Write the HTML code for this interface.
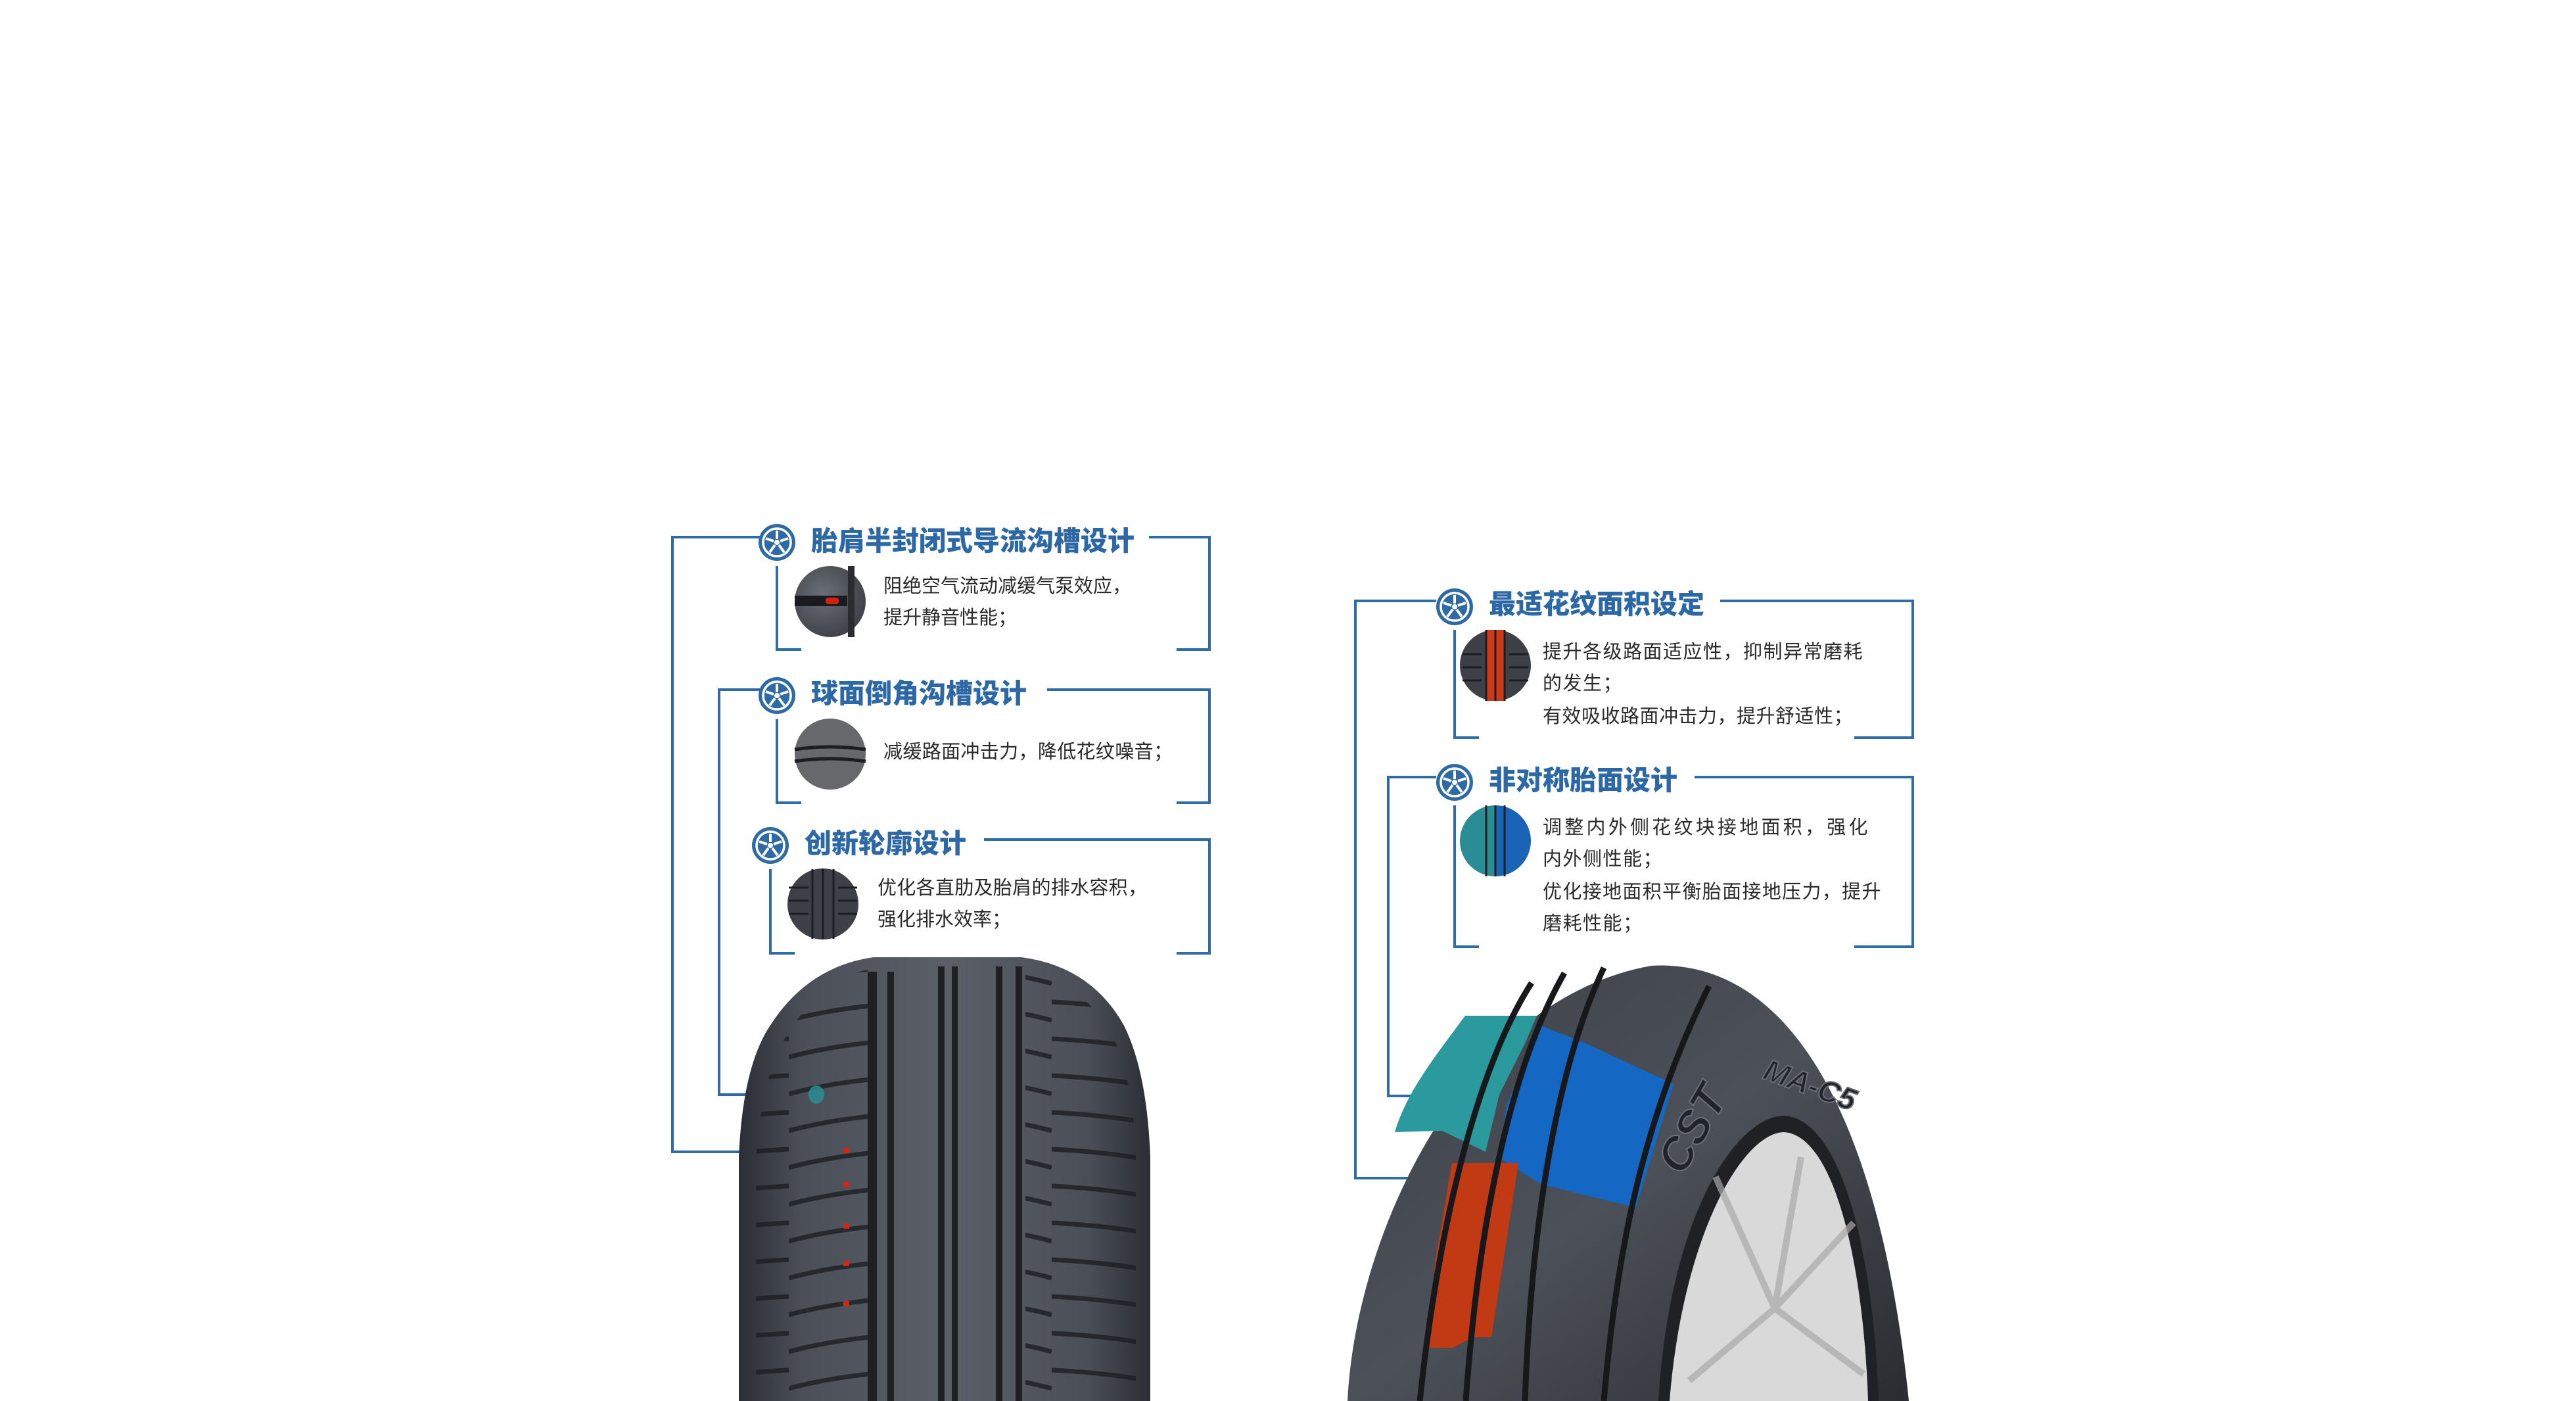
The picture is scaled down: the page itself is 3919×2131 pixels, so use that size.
<!DOCTYPE html>
<html><head><meta charset="utf-8"><style>
html,body{margin:0;padding:0;background:#fff;}
svg{display:block;}
.t{font-family:"Liberation Sans","Noto Sans CJK SC",sans-serif;font-weight:900;font-size:41px;fill:#2c68a6;}
.b{font-family:"Liberation Sans","Noto Sans CJK SC",sans-serif;font-size:29px;fill:#2a2a2a;}
.r{letter-spacing:1.5px;}
</style></head><body>
<svg width="3919" height="2131" viewBox="0 0 3919 2131" xmlns="http://www.w3.org/2000/svg">
<defs>
<linearGradient id="tg" x1="0" x2="1" y1="0" y2="0">
<stop offset="0" stop-color="#2b2e34"/><stop offset="0.15" stop-color="#4a4e57"/><stop offset="0.5" stop-color="#5b5f68"/><stop offset="0.85" stop-color="#4a4e57"/><stop offset="1" stop-color="#2b2e34"/></linearGradient>
<linearGradient id="rg" x1="0" x2="1" y1="0" y2="1">
<stop offset="0" stop-color="#3c4047"/><stop offset="0.5" stop-color="#4c5058"/><stop offset="1" stop-color="#2a2c31"/></linearGradient>
<radialGradient id="ci" cx="0.4" cy="0.4" r="0.7"><stop offset="0" stop-color="#6a6e76"/><stop offset="1" stop-color="#3a3d43"/></radialGradient>
<g id="icon">
<circle r="28" fill="#2e6aa6"/>
<circle r="21" fill="none" stroke="#fff" stroke-width="3.5"/>
<circle r="4" fill="#fff"/>
<g stroke="#fff" stroke-width="4">
<line x1="0" y1="-5" x2="0" y2="-18"/><line x1="5" y1="-2" x2="17" y2="-6"/><line x1="3" y1="4" x2="11" y2="15"/><line x1="-3" y1="4" x2="-11" y2="15"/><line x1="-5" y1="-2" x2="-17" y2="-6"/></g>
</g>
<pattern id="sipeL" width="200" height="56" patternUnits="userSpaceOnUse"><path d="M0,40 Q80,18 200,12" stroke="#1c1e22" stroke-width="7" fill="none"/></pattern>
<pattern id="sipeR" width="200" height="56" patternUnits="userSpaceOnUse"><path d="M0,12 Q120,18 200,40" stroke="#1c1e22" stroke-width="7" fill="none"/></pattern>
</defs>

<!-- connector lines -->
<g fill="none" stroke="#2f6ba6" stroke-width="4">
<path d="M1156,817 H1023 V1752 H1283"/>
<path d="M1748,817 H1840 V988 H1790"/>
<path d="M1182,861 V988 H1219"/>
<path d="M1156,1049 H1094 V1665 H1242"/>
<path d="M1593,1049 H1840 V1221 H1790"/>
<path d="M1182,1094 V1221 H1219"/>
<path d="M1497,1277 H1840 V1450 H1790"/>
<path d="M1172,1322 V1450 H1209"/>
<path d="M2185,914 H2062 V1792 H2258"/>
<path d="M2617,914 H2910 V1122 H2821"/>
<path d="M2213,958 V1122 H2250"/>
<path d="M2185,1182 H2112 V1667 H2258"/>
<path d="M2578,1182 H2910 V1440 H2821"/>
<path d="M2213,1225 V1440 H2250"/>
</g>

<!-- icons -->
<use href="#icon" x="1182" y="825"/>
<use href="#icon" x="1182" y="1058"/>
<use href="#icon" x="1172" y="1286"/>
<use href="#icon" x="2213" y="923"/>
<use href="#icon" x="2213" y="1190"/>

<!-- titles -->
<text class="t" x="1234" y="837">胎肩半封闭式导流沟槽设计</text>
<text class="t" x="1234" y="1069">球面倒角沟槽设计</text>
<text class="t" x="1224" y="1297">创新轮廓设计</text>
<text class="t" x="2265" y="933">最适花纹面积设定</text>
<text class="t" x="2265" y="1201">非对称胎面设计</text>

<!-- body texts -->
<text class="b" x="1344" y="901" textLength="377" lengthAdjust="spacing">阻绝空气流动减缓气泵效应，</text>
<text class="b" x="1344" y="949">提升静音性能；</text>
<text class="b" x="1344" y="1153" textLength="440" lengthAdjust="spacing">减缓路面冲击力，降低花纹噪音；</text>
<text class="b" x="1335" y="1360" textLength="410" lengthAdjust="spacing">优化各直肋及胎肩的排水容积，</text>
<text class="b" x="1335" y="1408">强化排水效率；</text>
<text class="b r" x="2347" y="1001" textLength="488" lengthAdjust="spacing">提升各级路面适应性，抑制异常磨耗</text>
<text class="b r" x="2347" y="1049">的发生；</text>
<text class="b r" x="2347" y="1099" textLength="473" lengthAdjust="spacing">有效吸收路面冲击力，提升舒适性；</text>
<text class="b r" x="2347" y="1268" textLength="496" lengthAdjust="spacing">调整内外侧花纹块接地面积，强化</text>
<text class="b r" x="2347" y="1316">内外侧性能；</text>
<text class="b r" x="2347" y="1366" textLength="516" lengthAdjust="spacing">优化接地面积平衡胎面接地压力，提升</text>
<text class="b r" x="2347" y="1414">磨耗性能；</text>

<!-- small thumbnails -->
<circle cx="1263" cy="915" r="54" fill="url(#ci)"/>
<rect x="1209" y="906" width="80" height="16" fill="#1a1b1e"/>
<rect x="1256" y="909" width="20" height="10" rx="4" fill="#d42010"/>
<rect x="1290" y="861" width="10" height="108" fill="#2a2c30"/>
<circle cx="1263" cy="1147" r="54" fill="#66686c"/>
<path d="M1209,1140 Q1263,1132 1317,1140" stroke="#1d1e21" stroke-width="5" fill="none"/>
<path d="M1209,1158 Q1263,1150 1317,1158" stroke="#1d1e21" stroke-width="5" fill="none"/>
<circle cx="1252" cy="1375" r="54" fill="#3d4047"/>
<g stroke="#1c1d21" stroke-width="3"><line x1="1236" y1="1322" x2="1236" y2="1428"/><line x1="1252" y1="1321" x2="1252" y2="1429"/><line x1="1268" y1="1322" x2="1268" y2="1428"/>
<line x1="1200" y1="1350" x2="1230" y2="1350"/><line x1="1200" y1="1370" x2="1230" y2="1370"/><line x1="1200" y1="1390" x2="1230" y2="1390"/><line x1="1275" y1="1350" x2="1304" y2="1350"/><line x1="1275" y1="1370" x2="1304" y2="1370"/><line x1="1275" y1="1390" x2="1304" y2="1390"/></g>
<circle cx="2275" cy="1012" r="54" fill="#3d4047"/>
<rect x="2261" y="958" width="28" height="108" fill="#cc3a18"/>
<g stroke="#1c1d21" stroke-width="3"><line x1="2261" y1="958" x2="2261" y2="1066"/><line x1="2275" y1="958" x2="2275" y2="1066"/><line x1="2289" y1="958" x2="2289" y2="1066"/>
<line x1="2225" y1="995" x2="2254" y2="995"/><line x1="2225" y1="1015" x2="2254" y2="1015"/><line x1="2225" y1="1035" x2="2254" y2="1035"/><line x1="2296" y1="995" x2="2325" y2="995"/><line x1="2296" y1="1015" x2="2325" y2="1015"/><line x1="2296" y1="1035" x2="2325" y2="1035"/></g>
<path d="M2275,1225 A54,54 0 0 0 2275,1333 Z" fill="#2a8c94"/>
<path d="M2275,1225 A54,54 0 0 1 2275,1333 Z" fill="#1a64b8"/>
<g stroke="#1c1d21" stroke-width="3"><line x1="2261" y1="1225" x2="2261" y2="1333"/><line x1="2275" y1="1225" x2="2275" y2="1333"/><line x1="2289" y1="1225" x2="2289" y2="1333"/></g>

<!-- left tire -->
<path d="M1124,2131 L1124,1760 Q1130,1620 1173,1558 Q1230,1470 1329,1456 L1554,1456 Q1660,1470 1710,1560 Q1745,1630 1750,1760 L1750,2131 Z" fill="url(#tg)"/>
<path d="M1150,2131 L1150,1760 Q1160,1630 1200,1570 Q1250,1490 1320,1475 L1320,2131 Z" fill="url(#sipeL)" opacity="0.8"/>
<path d="M1560,2131 L1560,1475 Q1640,1490 1690,1570 Q1725,1640 1728,1760 L1728,2131 Z" fill="url(#sipeR)" opacity="0.8"/>
<g fill="#1e2024"><rect x="1320" y="1478" width="14" height="653"/><rect x="1350" y="1478" width="10" height="653"/><rect x="1427" y="1470" width="10" height="661"/><rect x="1448" y="1470" width="9" height="661"/><rect x="1515" y="1470" width="10" height="661"/><rect x="1545" y="1470" width="10" height="661"/></g>
<g fill="#e0200e"><rect x="1283" y="1746" width="9" height="8"/><rect x="1283" y="1798" width="9" height="8"/><rect x="1283" y="1861" width="9" height="8"/><rect x="1283" y="1918" width="9" height="8"/><rect x="1283" y="1979" width="9" height="8"/></g>
<ellipse cx="1242" cy="1665" rx="12" ry="14" fill="#2a8c94" opacity="0.85"/>

<!-- right tire -->
<path d="M2050,2131 C2062,1881 2223,1521 2512,1469 C2714,1457 2858,1681 2904,2131 Z" fill="url(#rg)"/>
<path d="M2523,2131 C2540,1850 2640,1700 2713,1697 C2800,1700 2850,1900 2858,2131 Z" fill="#1f2125"/>
<path d="M2540,2131 C2560,1880 2650,1725 2713,1722 C2790,1725 2835,1920 2842,2131 Z" fill="#d9d9d9"/>
<g stroke="#a9a9a9" stroke-width="10" opacity="0.7"><line x1="2700" y1="1990" x2="2610" y2="1790"/><line x1="2700" y1="1990" x2="2740" y2="1760"/><line x1="2700" y1="1990" x2="2820" y2="1860"/><line x1="2700" y1="1990" x2="2570" y2="2100"/><line x1="2700" y1="1990" x2="2835" y2="2090"/></g>
<path d="M2122,1722 C2140,1660 2185,1605 2229,1545 L2338,1545 L2321,1585 L2281,1665 L2260,1752 L2194,1720 Z" fill="#2a9a9e"/>
<path d="M2344,1560 L2408,1585 L2546,1649 L2489,1837 L2344,1801 L2281,1761 L2292,1681 Z" fill="#1567c4"/>
<path d="M2209,1769 L2310,1769 L2304,1809 L2269,2034 L2240,2034 L2211,2050 L2171,2050 L2183,1921 Z" fill="#c23a14"/>
<g stroke="#17181b" stroke-width="9" fill="none"><path d="M2330,1495 C2250,1620 2190,1850 2160,2131"/><path d="M2380,1480 C2300,1620 2250,1850 2230,2131"/><path d="M2440,1472 C2370,1620 2330,1850 2320,2131"/><path d="M2600,1500 C2500,1700 2460,1900 2440,2131"/></g>
<text x="2560" y="1790" transform="rotate(-60 2560 1790)" font-family="Liberation Sans,sans-serif" font-weight="bold" font-style="italic" font-size="70" fill="#20232a" stroke="#6b6f77" stroke-width="2">CST</text>
<text x="2680" y="1640" transform="rotate(20 2680 1640)" font-family="Liberation Sans,sans-serif" font-weight="bold" font-style="italic" font-size="46" fill="#20232a" stroke="#6b6f77" stroke-width="2">MA-C5</text>
</svg>
</body></html>
